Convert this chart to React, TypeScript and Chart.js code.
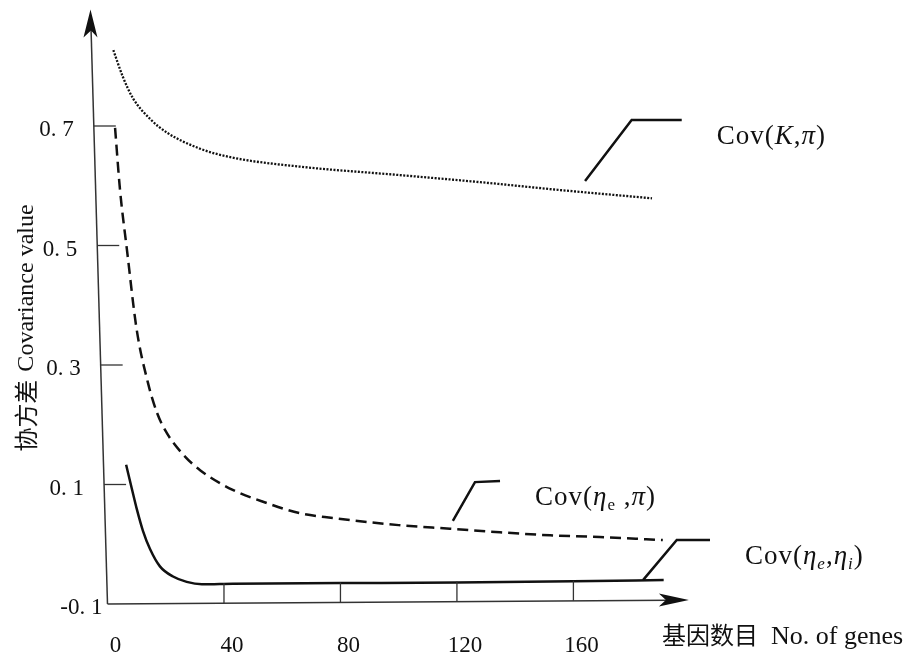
import React, { useEffect, useRef } from 'react';
import { Chart, registerables } from 'chart.js';
Chart.register(...registerables);

// Cov(K, pi) - dotted
const kpiGenes = [2, 5.3, 8.8, 14.6, 20.4, 31.8, 43, 66, 100, 128, 155, 187];
const kpiValues = [0.827, 0.782, 0.746, 0.712, 0.689, 0.662, 0.647, 0.632, 0.618, 0.606, 0.593, 0.579];

// Cov(eta_e, pi) - dashed
const epiGenes = [2.6, 4.3, 6.7, 10, 13.9, 17, 20.4, 26, 31.8, 43, 54.7, 66, 77.5, 100, 117.6, 134.8, 152, 169, 190.7];
const epiValues = [0.697, 0.593, 0.492, 0.36, 0.27, 0.22, 0.186, 0.15, 0.124, 0.091, 0.069, 0.052, 0.044, 0.032, 0.026, 0.02, 0.015, 0.012, 0.007];

// Cov(eta_e, eta_i) - solid
const eeiGenes = [6.4, 8.4, 10, 12.2, 14.6, 18, 22.5, 27.2, 32.4, 43, 80, 120, 160, 191];
const eeiValues = [0.133, 0.092, 0.06, 0.022, -0.008, -0.037, -0.054, -0.063, -0.067, -0.066, -0.065, -0.064, -0.062, -0.06];

// leader lines to the labels
const leaderKpiGenes = [164, 180, 197.2];
const leaderKpiValues = [0.608, 0.71, 0.71];
const leaderEpiGenes = [118.6, 126.2, 134.8];
const leaderEpiValues = [0.039, 0.104, 0.106];
const leaderEeiGenes = [183.9, 195.5, 206.9];
const leaderEeiValues = [-0.06, 0.007, 0.007];

const yTickValues = [0.7, 0.5, 0.3, 0.1, -0.1];
const yTickLabels = ['0. 7', '0. 5', '0. 3', '0. 1', '-0. 1'];
const xTickValues = [0, 40, 80, 120, 160];
const xTickLabels = ['0', '40', '80', '120', '160'];

const yTitleCn = '协方差';
const yTitleEn = 'Covariance value';
const xTitleCn = '基因数目';
const xTitleEn = 'No. of genes';

const pts = (xs: number[], ys: number[]) => xs.map((x, i) => ({ x, y: ys[i] }));

const SERIF = '"Liberation Serif", "DejaVu Serif", serif';
const CJK = '"Noto Sans CJK SC", sans-serif';

type Seg = { t: string; font: string; dy?: number };

const F = 27;
const legendKpi: Seg[] = [
  { t: 'Cov(', font: `${F}px ${SERIF}` },
  { t: 'K', font: `italic ${F}px ${SERIF}` },
  { t: ',', font: `${F}px ${SERIF}` },
  { t: 'π', font: `italic ${F}px ${SERIF}` },
  { t: ')', font: `${F}px ${SERIF}` },
];
const legendEpi: Seg[] = [
  { t: 'Cov(', font: `${F}px ${SERIF}` },
  { t: 'η', font: `italic ${F}px ${SERIF}` },
  { t: 'e', font: `17px ${SERIF}`, dy: 5 },
  { t: ' ,', font: `${F}px ${SERIF}` },
  { t: 'π', font: `italic ${F}px ${SERIF}` },
  { t: ')', font: `${F}px ${SERIF}` },
];
const legendEei: Seg[] = [
  { t: 'Cov(', font: `${F}px ${SERIF}` },
  { t: 'η', font: `italic ${F}px ${SERIF}` },
  { t: 'e', font: `italic 17px ${SERIF}`, dy: 5 },
  { t: ',', font: `${F}px ${SERIF}` },
  { t: 'η', font: `italic ${F}px ${SERIF}` },
  { t: 'i', font: `italic 17px ${SERIF}`, dy: 5 },
  { t: ')', font: `${F}px ${SERIF}` },
];

function drawRich(ctx: CanvasRenderingContext2D, x: number, y: number, segs: Seg[]) {
  let cx = x;
  ctx.textBaseline = 'alphabetic';
  ctx.textAlign = 'left';
  (ctx as any).letterSpacing = '1px';
  for (const s of segs) {
    ctx.font = s.font;
    ctx.fillText(s.t, cx, y + (s.dy || 0));
    cx += ctx.measureText(s.t).width;
  }
  (ctx as any).letterSpacing = '0px';
}

const decorPlugin = {
  id: 'decor',
  afterDraw(chart: any) {
    const ctx: CanvasRenderingContext2D = chart.ctx;
    const xs = chart.scales.x;
    const ys = chart.scales.y;
    const x0 = xs.getPixelForValue(0);
    const yB = ys.getPixelForValue(-0.1);
    const topY = chart.chartArea.top + 3;
    const tiltY = 17 / 594;
    const axisXAt = (py: number) => x0 - (yB - py) * tiltY;
    const xTip = xs.getPixelForValue(200) - 1;
    const tiltX = 4 / 581;
    const axisYAt = (px: number) => yB - (px - x0) * tiltX;

    ctx.save();
    ctx.strokeStyle = '#333';
    ctx.fillStyle = '#111';
    ctx.lineWidth = 1.5;
    // y axis
    ctx.beginPath();
    ctx.moveTo(x0, yB);
    ctx.lineTo(axisXAt(topY + 20), topY + 20);
    ctx.stroke();
    // x axis
    ctx.beginPath();
    ctx.moveTo(x0, yB);
    ctx.lineTo(xTip - 20, axisYAt(xTip - 20));
    ctx.stroke();
    // arrow heads
    const ax = axisXAt(topY);
    ctx.beginPath();
    ctx.moveTo(ax, topY);
    ctx.lineTo(ax + 7, topY + 28);
    ctx.lineTo(ax + 0.5, topY + 21);
    ctx.lineTo(ax - 7, topY + 28);
    ctx.closePath();
    ctx.fill();
    const ay = axisYAt(xTip);
    ctx.beginPath();
    ctx.moveTo(xTip, ay);
    ctx.lineTo(xTip - 30, ay - 6.5);
    ctx.lineTo(xTip - 23, ay);
    ctx.lineTo(xTip - 30, ay + 6.5);
    ctx.closePath();
    ctx.fill();

    // y ticks (inward)
    ctx.lineWidth = 1.3;
    yTickValues.forEach((v) => {
      if (v <= -0.1) return;
      const py = ys.getPixelForValue(v);
      const px = axisXAt(py);
      ctx.beginPath();
      ctx.moveTo(px, py);
      ctx.lineTo(px + 22, py);
      ctx.stroke();
    });
    // x ticks (inward)
    xTickValues.forEach((v) => {
      if (v <= 0) return;
      const px = xs.getPixelForValue(v);
      const py = axisYAt(px);
      ctx.beginPath();
      ctx.moveTo(px, py);
      ctx.lineTo(px, py - 20);
      ctx.stroke();
    });

    // tick labels
    ctx.fillStyle = '#111';
    ctx.font = `23px ${SERIF}`;
    ctx.textAlign = 'right';
    ctx.textBaseline = 'middle';
    yTickValues.forEach((v, i) => {
      const py = ys.getPixelForValue(v);
      const gap = v <= -0.1 ? 5 : 20;
      ctx.fillText(yTickLabels[i], axisXAt(py) - gap, py + 4);
    });
    ctx.font = `23px ${SERIF}`;
    ctx.textAlign = 'center';
    xTickValues.forEach((v, i) => {
      const px = xs.getPixelForValue(v);
      ctx.fillText(xTickLabels[i], px + 8, yB + 42);
    });

    // x title
    ctx.textAlign = 'left';
    ctx.textBaseline = 'alphabetic';
    ctx.font = `24px ${CJK}`;
    const tx = 662;
    const tyBase = yB + 40;
    ctx.fillText(xTitleCn, tx, tyBase);
    const cnW = ctx.measureText(xTitleCn).width;
    ctx.font = `26px ${SERIF}`;
    ctx.fillText(xTitleEn, tx + cnW + 13, tyBase);

    // y title (rotated)
    ctx.save();
    ctx.translate(26, 328);
    ctx.rotate(-Math.PI / 2);
    ctx.textBaseline = 'middle';
    ctx.font = `24px ${CJK}`;
    const cw = ctx.measureText(yTitleCn).width;
    ctx.font = `24px ${SERIF}`;
    const ew = ctx.measureText(yTitleEn).width;
    const total = cw + 8 + ew;
    ctx.font = `24px ${CJK}`;
    ctx.textAlign = 'left';
    ctx.fillText(yTitleCn, -total / 2, 0);
    ctx.font = `24px ${SERIF}`;
    ctx.fillText(yTitleEn, -total / 2 + cw + 8, 1);
    ctx.restore();

    // legend labels next to leader ends
    const lbl = (gx: number, gv: number, segs: Seg[]) => {
      const px = xs.getPixelForValue(gx);
      const py = ys.getPixelForValue(gv);
      drawRich(ctx, px + 35, py + 24, segs);
    };
    lbl(leaderKpiGenes[2], leaderKpiValues[2], legendKpi);
    lbl(leaderEpiGenes[2], leaderEpiValues[2], legendEpi);
    lbl(leaderEeiGenes[2], leaderEeiValues[2], legendEei);
    ctx.restore();
  },
};

export default function App() {
  const ref = useRef<HTMLCanvasElement>(null);
  useEffect(() => {
    const leader = (xsA: number[], ysA: number[]) => ({
      data: pts(xsA, ysA),
      borderColor: '#111',
      borderWidth: 2.5,
      pointRadius: 0,
      tension: 0,
      fill: false,
    });
    const chart = new Chart(ref.current!, {
      type: 'line',
      data: {
        datasets: [
          {
            label: 'Cov(K,π)',
            data: pts(kpiGenes, kpiValues),
            borderColor: '#111',
            borderWidth: 2.3,
            borderDash: [2, 1.5],
            pointRadius: 0,
            cubicInterpolationMode: 'monotone',
            fill: false,
          },
          {
            label: 'Cov(ηe,π)',
            data: pts(epiGenes, epiValues),
            borderColor: '#111',
            borderWidth: 2.5,
            borderDash: [11, 6],
            pointRadius: 0,
            cubicInterpolationMode: 'monotone',
            fill: false,
          },
          {
            label: 'Cov(ηe,ηi)',
            data: pts(eeiGenes, eeiValues),
            borderColor: '#111',
            borderWidth: 2.5,
            pointRadius: 0,
            cubicInterpolationMode: 'monotone',
            fill: false,
          },
          leader(leaderKpiGenes, leaderKpiValues),
          leader(leaderEpiGenes, leaderEpiValues),
          leader(leaderEeiGenes, leaderEeiValues),
        ] as any,
      },
      options: {
        animation: false,
        responsive: true,
        maintainAspectRatio: false,
        layout: { padding: { left: 107.5, right: 184, top: 6.5, bottom: 55 } },
        plugins: { legend: { display: false }, tooltip: { enabled: false } },
        scales: {
          x: { type: 'linear', min: 0, max: 210, display: false },
          y: { type: 'linear', min: -0.1, max: 0.9, display: false },
        },
      },
      plugins: [decorPlugin],
    });
    return () => chart.destroy();
  }, []);
  return (
    <div style={{ position: 'absolute', left: 0, top: 0, width: 903, height: 659, background: '#fff' }}>
      <canvas ref={ref} />
    </div>
  );
}
